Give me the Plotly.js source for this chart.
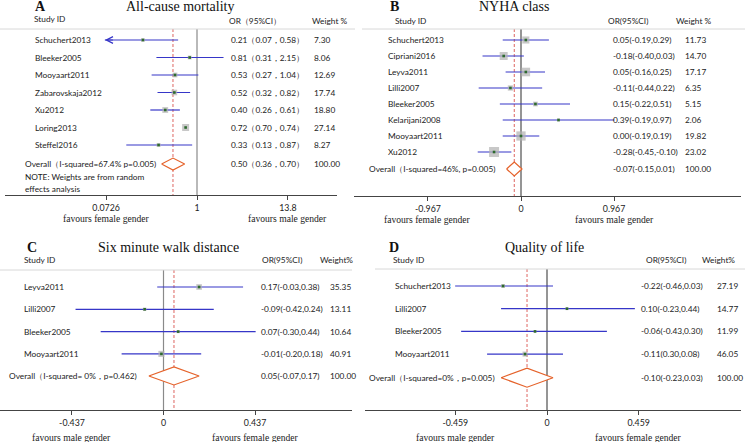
<!DOCTYPE html>
<html><head><meta charset="utf-8">
<script src="https://cdn.plot.ly/plotly-3.0.1.min.js"></script>
<style>html,body{margin:0;padding:0;background:#fff}#chart{width:745px;height:442px}</style>
</head><body><div id="chart"></div>
<script>
// ---------- DATA ----------
// A: All-cause mortality (log OR scale)
const studiesA = ['Schuchert2013','Bleeker2005','Mooyaart2011','Zabarovskaja2012','Xu2012','Loring2013','Steffel2016'];
const estA = [0.21,0.81,0.53,0.52,0.40,0.72,0.33];
const loA  = [0.07,0.31,0.27,0.32,0.26,0.70,0.13];
const hiA  = [0.58,2.15,1.04,0.82,0.61,0.74,0.87];
const weightA = [7.30,8.06,12.69,17.74,18.80,27.14,8.27];
const ciTextA = ['0.21（0.07，0.58）','0.81（0.31，2.15）','0.53（0.27，1.04）','0.52（0.32，0.82）','0.40（0.26，0.61）','0.72（0.70，0.74）','0.33（0.13，0.87）'];
const overallA = [0.50,0.36,0.70];
const overallTextA = ['Overall（I-squared=67.4% p=0.005)','0.50（0.36，0.70）','100.00'];
const ticksA = [0.0726,1,13.8];
const tickTextA = ['0.0726','1','13.8'];
const favoursA = ['favours female gender','favours male gender'];

// B: NYHA class
const studiesB = ['Schuchert2013','Cipriani2016','Leyva2011','Lilli2007','Bleeker2005','Kelarijani2008','Mooyaart2011','Xu2012'];
const estB = [0.05,-0.18,0.05,-0.11,0.15,0.39,0.00,-0.28];
const loB  = [-0.19,-0.40,-0.16,-0.44,-0.22,-0.19,-0.19,-0.45];
const hiB  = [0.29,0.03,0.25,0.22,0.51,0.97,0.19,-0.10];
const weightB = [11.73,14.70,17.17,6.35,5.15,2.06,19.82,23.02];
const ciTextB = ['0.05(-0.19,0.29)','-0.18(-0.40,0.03)','0.05(-0.16,0.25)','-0.11(-0.44,0.22)','0.15(-0.22,0.51)','0.39(-0.19,0.97)','0.00(-0.19,0.19)','-0.28(-0.45,-0.10)'];
const overallB = [-0.07,-0.15,0.01];
const overallTextB = ['Overall（I-squared=46%, p=0.005)','-0.07(-0.15,0.01)','100.00'];
const ticksB = [-0.967,0,0.967];
const tickTextB = ['-0.967','0','0.967'];
const favoursB = ['favours female gender','favours male gender'];

// C: Six minute walk distance
const studiesC = ['Leyva2011','Lilli2007','Bleeker2005','Mooyaart2011'];
const estC = [0.17,-0.09,0.07,-0.01];
const loC  = [-0.03,-0.42,-0.30,-0.20];
const hiC  = [0.38,0.24,0.44,0.18];
const weightC = [35.35,13.11,10.64,40.91];
const ciTextC = ['0.17(-0.03,0.38)','-0.09(-0.42,0.24)','0.07(-0.30,0.44)','-0.01(-0.20,0.18)'];
const overallC = [0.05,-0.07,0.17];
const overallTextC = ['Overall（I-squared= 0%，p=0.462)','0.05(-0.07,0.17)','100.00'];
const ticksC = [-0.437,0,0.437];
const tickTextC = ['-0.437','0','0.437'];
const favoursC = ['favours male gender','favours female gender'];

// D: Quality of life
const studiesD = ['Schuchert2013','Lilli2007','Bleeker2005','Mooyaart2011'];
const estD = [-0.22,0.10,-0.06,-0.11];
const loD  = [-0.46,-0.23,-0.43,-0.30];
const hiD  = [0.03,0.44,0.30,0.08];
const weightD = [27.19,14.77,11.99,46.05];
const ciTextD = ['-0.22(-0.46,0.03)','0.10(-0.23,0.44)','-0.06(-0.43,0.30)','-0.11(0.30,0.08)'];
const overallD = [-0.10,-0.23,0.03];
const overallTextD = ['Overall（I-squared=0%，p=0.005)','-0.10(-0.23,0.03)','100.00'];
const ticksD = [-0.459,0,0.459];
const tickTextD = ['-0.459','0','0.459'];
const favoursD = ['favours male gender','favours female gender'];

// ---------- LAYOUT / STYLE ----------
const W = 745, H = 442;
const px = x => x / W;
const py = y => 1 - y / H;
const TXT = 'Lato, "Noto Sans", sans-serif';
const TS = 8.3;
const SERIF = '"Liberation Serif", "DejaVu Serif", serif';
const BLUE = '#3636c8', SQ = '#b0b0b0', DOT = '#2e6a2e', DIA = '#e5622a', DASH = '#d9534f', TC = '#222';

const panels = [
  {letter:'A', title:'All-cause mortality', type:'log', ref:1, refW:1.2,
   studies:studiesA, est:estA, lo:loA, hi:hiA, w:weightA, ciText:ciTextA, overall:overallA, overallText:overallTextA,
   ticks:ticksA, tickText:tickTextA, favours:favoursA, headers:['OR（95%CI）','Weight %'], arrowRows:[0],
   axisX0:5, axisX1:337, zeroPx:197, ppu:79.8, axisY:195, topY:29, row0:40, rowStep:17.5, overallRow:7.09,
   sep:[0,355], nameX:33, ciX:229, wX:312, letterXY:[33,7], titleXY:[180,7], sidXY:[32,19], hdrX:[227,310], hdrY:21,
   ovX:23, favY:218.5, diaHalf:6, sqK:1.34},
  {letter:'B', title:'NYHA class', type:'linear', ref:0, refW:1.8,
   studies:studiesB, est:estB, lo:loB, hi:hiB, w:weightB, ciText:ciTextB, overall:overallB, overallText:overallTextB,
   ticks:ticksB, tickText:tickTextB, favours:favoursB, headers:['OR(95%CI)','Weight %'], arrowRows:[],
   axisX0:354, axisX1:741, zeroPx:521, ppu:96.2, axisY:196, topY:29, row0:40, rowStep:16, overallRow:8.06,
   sep:[362,745], nameX:386, ciX:611, wX:683, letterXY:[388,7], titleXY:[514,7], sidXY:[393,21], hdrX:[606,674], hdrY:21,
   ovX:367, favY:219, diaHalf:7, sqK:2.08},
  {letter:'C', title:'Six minute walk distance', type:'linear', ref:0, refW:1.2,
   studies:studiesC, est:estC, lo:loC, hi:hiC, w:weightC, ciText:ciTextC, overall:overallC, overallText:overallTextC,
   ticks:ticksC, tickText:tickTextC, favours:favoursC, headers:['OR(95%CI)','Weight%'], arrowRows:[],
   axisX0:0, axisX1:352, zeroPx:163.5, ppu:209.4, axisY:410, topY:270, row0:287, rowStep:22.3, overallRow:3.99,
   sep:[0,352], nameX:22, ciX:259, wX:328, letterXY:[25,247], titleXY:[168,247], sidXY:[22,260], hdrX:[260,318], hdrY:260,
   ovX:7, favY:437, diaHalf:9, sqK:0.95},
  {letter:'D', title:'Quality of life', type:'linear', ref:0, refW:1.8,
   studies:studiesD, est:estD, lo:loD, hi:hiD, w:weightD, ciText:ciTextD, overall:overallD, overallText:overallTextD,
   ticks:ticksD, tickText:tickTextD, favours:favoursD, headers:['OR(95%CI)','Weight%'], arrowRows:[],
   axisX0:365, axisX1:741, zeroPx:547, ppu:199.7, axisY:410, topY:269, row0:286, rowStep:22.7, overallRow:4.04,
   sep:[375,745], nameX:393, ciX:639, wX:715, letterXY:[387,247], titleXY:[544,247], sidXY:[391,260], hdrX:[644,700], hdrY:260,
   ovX:367, favY:437, diaHalf:9.5, sqK:0.75}
];

const traces = [], annotations = [], shapes = [];
const layout = {width:W, height:H, margin:{l:0,r:0,t:0,b:0}, paper_bgcolor:'#fff', plot_bgcolor:'rgba(0,0,0,0)', showlegend:false};

function txt(x, y, text, opt) {
  return Object.assign({x:x, y:y, text:text, showarrow:false, xanchor:'left', yanchor:'middle',
    font:{family:TXT, size:TS, color:TC}}, opt || {});
}

panels.forEach((p, i) => {
  const sfx = i === 0 ? '' : String(i + 1);
  const xa = 'x' + sfx, ya = 'y' + sfx;
  const toRow = pix => (pix - p.row0) / p.rowStep;
  const yTop = toRow(p.topY), yBot = toRow(p.axisY);
  const xconv = v => p.type === 'log' ? Math.log10(v) : v;
  const rows = p.studies.map((_, k) => k);

  layout['xaxis' + sfx] = {domain:[px(p.axisX0), px(p.axisX1)], type:p.type,
    range:[(p.axisX0 - p.zeroPx) / p.ppu, (p.axisX1 - p.zeroPx) / p.ppu], anchor:ya,
    showgrid:false, zeroline:false, showline:true, linecolor:'#444', linewidth:1.2,
    ticks:'outside', ticklen:4, tickcolor:'#444', tickwidth:1, tickmode:'array',
    tickvals:p.ticks, ticktext:p.tickText, tickfont:{family:TXT, size:8.8, color:TC}, fixedrange:true};
  layout['yaxis' + sfx] = {domain:[py(p.axisY), py(p.topY)], range:[yBot, yTop], anchor:xa,
    visible:false, fixedrange:true};

  // reference line and overall dashed line
  traces.push({x:[p.ref, p.ref], y:[yTop, yBot], mode:'lines', xaxis:xa, yaxis:ya,
    line:{color:'#8a8a8a', width:p.refW}, hoverinfo:'skip'});
  traces.push({x:[p.overall[0], p.overall[0]], y:[yTop, yBot], mode:'lines', xaxis:xa, yaxis:ya,
    line:{color:DASH, width:0.9, dash:'3px,2px'}, hoverinfo:'skip'});

  // CI lines
  const cx = [], cy = [];
  p.studies.forEach((_, k) => { cx.push(p.lo[k], p.hi[k], null); cy.push(k, k, null); });
  traces.push({x:cx, y:cy, mode:'lines', xaxis:xa, yaxis:ya, line:{color:BLUE, width:1.2}, hoverinfo:'skip', connectgaps:false});

  // weight squares and centre dots
  traces.push({x:p.est, y:rows, mode:'markers', xaxis:xa, yaxis:ya,
    marker:{symbol:'square', size:p.w.map(v => p.sqK * Math.sqrt(v)), color:SQ, line:{width:0}}, hoverinfo:'skip'});
  traces.push({x:p.est, y:rows, mode:'markers', xaxis:xa, yaxis:ya,
    marker:{symbol:'square', size:2.6, color:DOT, line:{width:0}}, hoverinfo:'skip'});

  // overall diamond
  const h = p.diaHalf / p.rowStep, r = p.overallRow;
  traces.push({x:[p.overall[1], p.overall[0], p.overall[2], p.overall[0], p.overall[1]],
    y:[r, r - h, r, r + h, r], mode:'lines', fill:'toself', fillcolor:'#fff', xaxis:xa, yaxis:ya,
    line:{color:DIA, width:1.2}, hoverinfo:'skip'});

  // truncated CI arrows
  p.arrowRows.forEach(k => {
    annotations.push({x:xconv(p.lo[k]), y:k, xref:xa, yref:ya, ax:xconv(p.lo[k]) + 0.12, ay:k, axref:xa, ayref:ya,
      showarrow:true, arrowhead:5, arrowsize:1.1, arrowwidth:1.2, arrowcolor:BLUE, text:'', standoff:0});
  });

  // separator line
  shapes.push({type:'line', xref:'paper', yref:'paper', x0:px(p.sep[0]), x1:px(p.sep[1]), y0:py(p.topY), y1:py(p.topY),
    line:{color:'#d8d8d8', width:1}});

  // titles & headers
  annotations.push(txt(px(p.letterXY[0]), py(p.letterXY[1]), '<b>' + p.letter + '</b>', {xref:'paper', yref:'paper', font:{family:SERIF, size:14, color:'#111'}}));
  annotations.push(txt(px(p.titleXY[0]), py(p.titleXY[1]), p.title, {xref:'paper', yref:'paper', xanchor:'center', font:{family:SERIF, size:14, color:'#111'}}));
  annotations.push(txt(px(p.sidXY[0]), py(p.sidXY[1]), 'Study ID', {xref:'paper', yref:'paper'}));
  annotations.push(txt(px(p.hdrX[0]), py(p.hdrY), p.headers[0], {xref:'paper', yref:'paper'}));
  annotations.push(txt(px(p.hdrX[1]), py(p.hdrY), p.headers[1], {xref:'paper', yref:'paper'}));

  // study rows
  p.studies.forEach((s, k) => {
    annotations.push(txt(px(p.nameX), k, s, {xref:'paper', yref:ya}));
    annotations.push(txt(px(p.ciX), k, p.ciText[k], {xref:'paper', yref:ya}));
    annotations.push(txt(px(p.wX), k, p.w[k].toFixed(2), {xref:'paper', yref:ya}));
  });
  annotations.push(txt(px(p.ovX), r, p.overallText[0], {xref:'paper', yref:ya}));
  annotations.push(txt(px(p.ciX), r, p.overallText[1], {xref:'paper', yref:ya}));
  annotations.push(txt(px(p.wX), r, p.overallText[2], {xref:'paper', yref:ya}));

  // favours labels under outer ticks
  annotations.push(txt(xconv(p.ticks[0]), py(p.favY), p.favours[0], {xref:xa, yref:'paper', xanchor:'center', font:{family:SERIF, size:9.6, color:TC}}));
  annotations.push(txt(xconv(p.ticks[2]), py(p.favY), p.favours[1], {xref:xa, yref:'paper', xanchor:'center', font:{family:SERIF, size:9.6, color:TC}}));

  if (p.letter === 'A') {
    annotations.push(txt(px(p.ovX), py(177), 'NOTE: Weights are from random', {xref:'paper', yref:'paper'}));
    annotations.push(txt(px(p.ovX), py(188.5), 'effects analysis', {xref:'paper', yref:'paper'}));
  }
});

layout.annotations = annotations;
layout.shapes = shapes;
Plotly.newPlot('chart', traces, layout, {staticPlot:true, displayModeBar:false});
</script></body></html>
